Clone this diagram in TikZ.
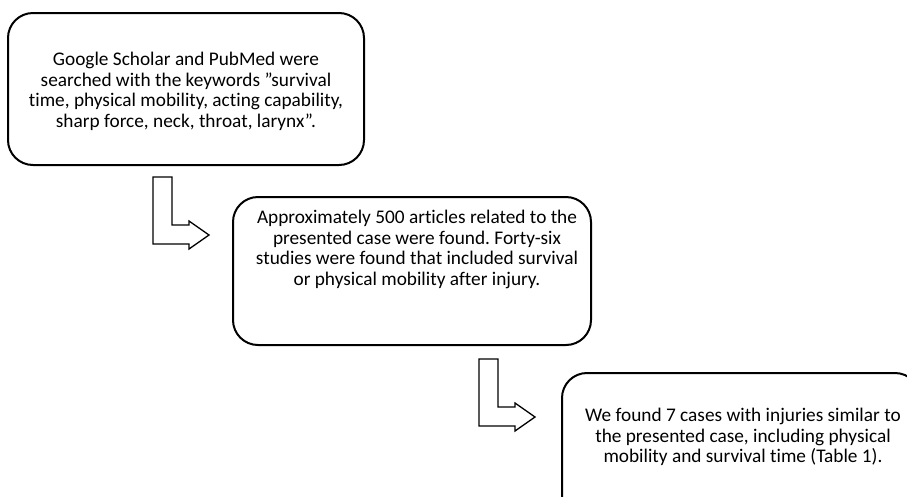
\documentclass[tikz,border=0pt]{standalone}
\usepackage{fontspec}
\setmainfont{Carlito}[Ligatures={ResetAll,NoCommon}]
\begin{document}
\frenchspacing
\begin{tikzpicture}[x=1pt,y=-1pt,
  box/.style={draw, line width=2pt, rounded corners=25pt, rectangle, inner sep=0pt},
  txt/.style={align=center, font=\fontsize{19.3}{20.5}\selectfont, inner sep=0pt, anchor=north},
  barrow/.style={draw, line width=1.3pt, fill=white, line join=miter}]
\useasboundingbox (0,0) rectangle (907,496);
\clip (0,0) rectangle (907,496);
\fill[white] (0,0) rectangle (907,496);
% boxes
\node[box, minimum width=356pt, minimum height=152pt] (b1) at (186,89) {};
\node[box, minimum width=358pt, minimum height=148pt] (b2) at (412,271) {};
\node[box, minimum width=358pt, minimum height=150pt] (b3) at (741,448) {};
% texts
\node[txt] (t1) at (186,52) {Google Scholar and PubMed were\\searched with the keywords "survival\\time, physical mobility, acting capability,\\sharp force, neck, throat, larynx".};
\node[txt] (t2) at (417,210) {Approximately 500 articles related to the\\presented case were found. Forty-six\\studies were found that included survival\\or physical mobility after injury.};
\node[txt] (t3) at (743,408) {We found 7 cases with injuries similar to\\the presented case, including physical\\mobility and survival time (Table 1).};
% bent block arrows
\coordinate (a1) at (153,177);
\draw[barrow] (a1) -- ++(19,0) -- ++(0,48) -- ++(17,0) -- ++(0,-4) -- ++(20,14) -- ++(-20,14) -- ++(0,-5) -- ++(-36,0) -- cycle;
\coordinate (a2) at (479,359);
\draw[barrow] (a2) -- ++(19,0) -- ++(0,48) -- ++(17,0) -- ++(0,-4) -- ++(20,14) -- ++(-20,14) -- ++(0,-5) -- ++(-36,0) -- cycle;
\end{tikzpicture}
\end{document}
